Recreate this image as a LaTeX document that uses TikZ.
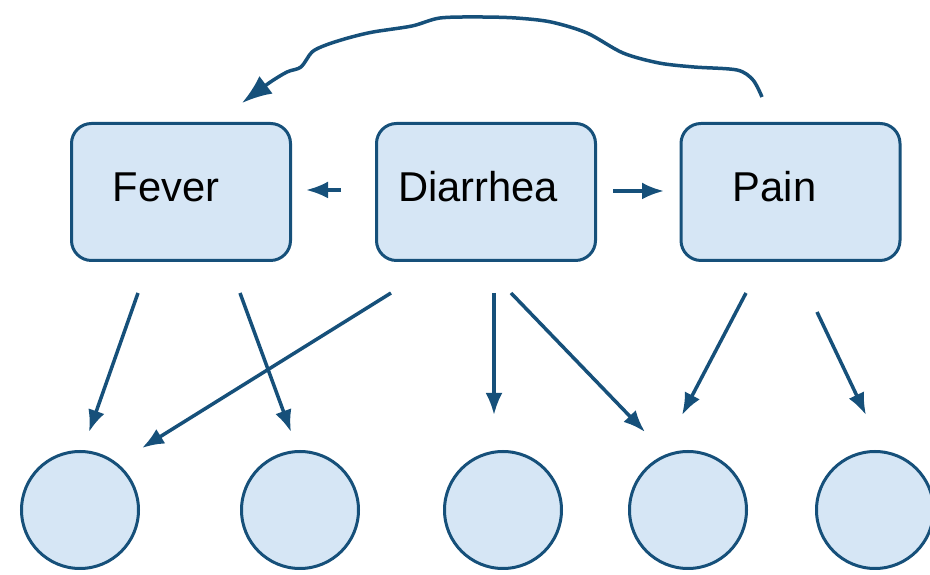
\documentclass[tikz,border=0pt]{standalone}
\usepackage{fontspec}
\setmainfont{Liberation Sans}
\usetikzlibrary{arrows.meta,calc}
\definecolor{boxblue}{RGB}{214,230,245}
\definecolor{lineblue}{RGB}{22,80,122}
\tikzstyle{symptom}=[draw=lineblue,fill=boxblue,line width=3pt,rounded corners=20pt,minimum width=219pt,minimum height=137pt,inner sep=0pt,text height=30pt,text depth=10pt,font=\fontsize{41.7}{50}\selectfont]
\tikzstyle{outcome}=[circle,draw=lineblue,fill=boxblue,line width=3pt,minimum size=117pt,inner sep=0pt]
\tikzstyle{link} = [draw=lineblue,line width=3.5pt,-{Latex[length=22pt,width=17pt]}]

\begin{document}
\begin{tikzpicture}[x=1pt,y=1pt]
      \useasboundingbox (0,0) rectangle (930,575);
      \node[symptom] (fever) at (181,383) {Fever\kern30pt};
      \node[symptom] (diarrhea) at (486,383) {Diarrhea\kern16pt};
      \node[symptom] (pain) at (790.5,383) {Pain\kern32pt};
      \foreach \x/\id in {80/1,300/2,503/3,688/4,875/5}{
        \node[outcome] (c\id) at (\x,65) {};
      }
      \foreach \id/\tx/\ty/\hx/\hy in {1/138/282/89/143,2/240/282/291/143,3/391/282/142/127,
          4/494/282/494/160,5/511/282/645/143,6/746/282/682/160,7/817/263/866/160,
          8/341/385/306/385,9/613/384/664/384}{
        \coordinate (t\id) at (\tx,\ty);
        \coordinate (h\id) at (\hx,\hy);
        \path[link] (t\id) -- (h\id);
      }
      \coordinate (ps) at (762,478);
      \coordinate (ft) at (242,472);
      \draw[lineblue,line width=3.5pt,-{Latex[length=30pt,width=22pt]}]
        plot[smooth,tension=0.5] coordinates {(ps) (753,495) (737,505) (694,508) (659,512)
          (623,522) (587,542) (551,553) (516,557) (480,558) (440,557) (412,549) (373,543)
          (348,537) (326,530) (312,523) (301,508) (287,503) (269,492) (ft)};

    \end{tikzpicture}
\end{document}
